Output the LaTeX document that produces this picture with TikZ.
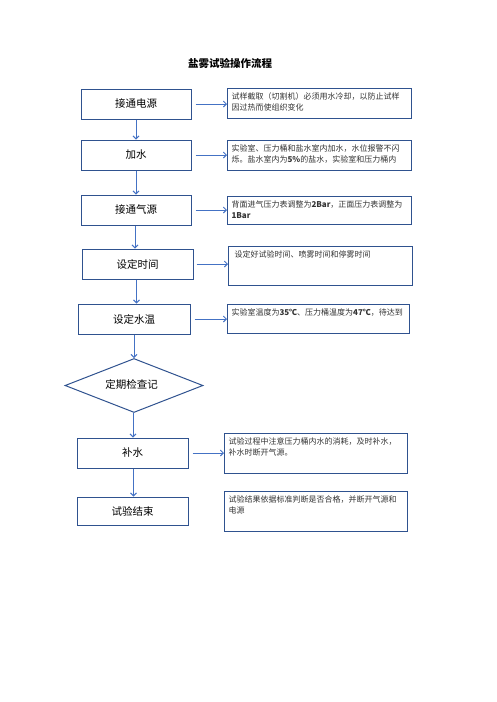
\documentclass[tikz,border=0pt]{standalone}
\usepackage{fontspec}
\setmainfont{Noto Sans CJK SC}
\usetikzlibrary{shapes.geometric,arrows.meta}
\definecolor{borde}{HTML}{2F528F}
\definecolor{azul}{HTML}{4472C4}
\begin{document}
\begin{tikzpicture}[x=1pt,y=-1pt,
        caja/.style={draw=borde, line width=1pt, minimum width=110pt, minimum height=30pt, font=\fontsize{10.5}{12}\selectfont},
        nota/.style={draw=borde, line width=1pt, anchor=north west, inner sep=4pt, font=\fontsize{8}{11}\selectfont, text=black!80},
        rombo/.style={draw=borde, line width=1pt, diamond, aspect=2.5, minimum width=138pt, minimum height=54pt, inner sep=0pt, font=\fontsize{10.5}{12}\selectfont},
        flecha/.style={-{Straight Barb[length=3pt,width=6pt]}, line width=0.9pt, azul}]
        \useasboundingbox (0,0) rectangle (496,702);
        \node[font=\bfseries\fontsize{10.5}{12}\selectfont] (titulo) at (230,63) {盐雾试验操作流程};
        % pasos
        \node[caja] (p1) at (136,104)   {接通电源};
        \node[caja] (p2) at (136,155)   {加水};
        \node[caja] (p3) at (136,210)   {接通气源};
        \node[caja, minimum width=111pt] (p4) at (137.5,264) {设定时间};
        \node[caja, minimum width=112pt] (p5) at (134,319)   {设定水温};
        \node[rombo] (d1) at (134,385.5) {\raisebox{3pt}{定期检查记\hspace{5pt}}};
        \node[caja, minimum width=111pt] (p6) at (132.5,453) {补水};
        \node[caja, minimum width=111pt, minimum height=28pt] (p7) at (132.5,511) {试验结束};
        % notas
        \node[nota] (n1) at (227,88)  {\parbox[t][22pt][t]{176pt}{试样截取（切割机）必须用水冷却，以防止试样\\因过热而使组织变化}};
        \node[nota] (n2) at (227,140) {\parbox[t][22pt][t]{176pt}{实验室、压力桶和盐水室内加水，水位报警不闪\\烁。盐水室内为\textbf{5\%}的盐水，实验室和压力桶内}};
        \node[nota] (n3) at (227,196) {\parbox[t][20pt][t]{176pt}{背面进气压力表调整为\textbf{2Bar}，正面压力表调整为\\\textbf{1Bar}}};
        \node[nota] (n4) at (228,246) {\parbox[t][31pt][t]{176pt}{\hspace{2pt}设定好试验时间、喷雾时间和停雾时间}};
        \node[nota] (n5) at (227,304) {\parbox[t][21pt][t]{174pt}{实验室温度为\textbf{35℃}、压力桶温度为\textbf{47℃}，待达到}};
        \node[nota] (n6) at (224,433) {\parbox[t][32pt][t]{175pt}{试验过程中注意压力桶内水的消耗，及时补水，\\补水时断开气源。}};
        \node[nota] (n7) at (224,491) {\parbox[t][32pt][t]{175pt}{试验结果依据标准判断是否合格，并断开气源和\\电源}};
        % flechas
        \draw[flecha] (p1.south) -- (p1.south |- p2.north);
        \draw[flecha] (p2.south) -- (p2.south |- p3.north);
        \draw[flecha] ([xshift=-1pt]p3.south) -- ([xshift=-1pt]p3.south |- p4.north);
        \draw[flecha] ([xshift=-1pt]p4.south) -- ([xshift=-1pt]p4.south |- p5.north);
        \draw[flecha] (p5.south) -- (d1.north);
        \draw[flecha] ([xshift=-1pt]d1.south) -- ([xshift=-1pt]d1.south |- p6.north);
        \draw[flecha] ([xshift=1pt]p6.south) -- ([xshift=1pt]p6.south |- p7.north);
        \draw[flecha] ([xshift=4pt]p1.east) -- (p1.east -| n1.west);
        \draw[flecha] ([xshift=4pt]p2.east) -- (p2.east -| n2.west);
        \draw[flecha] ([xshift=4pt]p3.east) -- (p3.east -| n3.west);
        \draw[flecha] ([xshift=3pt]p4.east) -- (p4.east -| n4.west);
        \draw[flecha] ([xshift=4pt]p5.east) -- (p5.east -| n5.west);
        \draw[flecha] ([xshift=4pt]p6.east) -- (p6.east -| n6.west);
    \end{tikzpicture}
\end{document}
